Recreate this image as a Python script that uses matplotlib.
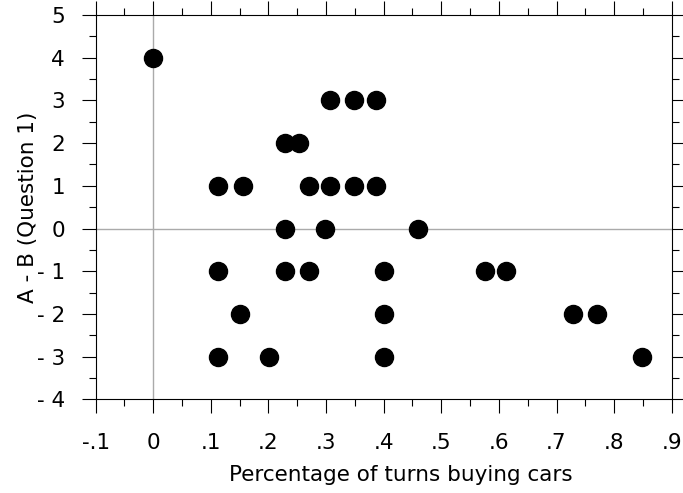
import matplotlib
matplotlib.use("Agg")
import matplotlib.pyplot as plt
from matplotlib.ticker import FixedLocator

# share of turns spent buying cars (x) against A - B answer (y)
pct_turns = [0.0,
             0.307, 0.349, 0.387,
             0.229, 0.253,
             0.113, 0.155, 0.271, 0.307, 0.349, 0.387,
             0.229, 0.298, 0.460,
             0.113, 0.229, 0.271, 0.400, 0.576, 0.612,
             0.150, 0.400, 0.729, 0.770,
             0.113, 0.201, 0.400, 0.849]
a_minus_b = [4,
             3, 3, 3,
             2, 2,
             1, 1, 1, 1, 1, 1,
             0, 0, 0,
             -1, -1, -1, -1, -1, -1,
             -2, -2, -2, -2,
             -3, -3, -3, -3]

x_ticks = [-0.1, 0, 0.1, 0.2, 0.3, 0.4, 0.5, 0.6, 0.7, 0.8, 0.9]
x_labels = ["-.1", "0", ".1", ".2", ".3", ".4", ".5", ".6", ".7", ".8", ".9"]
y_ticks = [-4, -3, -2, -1, 0, 1, 2, 3, 4, 5]
y_labels = ["- 4", "- 3", "- 2", "- 1", "0", "1", "2", "3", "4", "5"]

plt.rcParams['font.family'] = ['DejaVu Sans']
fs = 15.5

fig = plt.figure(figsize=(6.83, 4.93), dpi=100)
ax = fig.add_axes([0.140, 0.190, 0.8435, 0.7796])

ax.axhline(0, color='#aaaaaa', lw=1, zorder=1)
ax.axvline(0, color='#aaaaaa', lw=1, zorder=1)
ax.plot(pct_turns, a_minus_b, 'o', color='black', markersize=13, zorder=3)

ax.set_xlim(-0.1, 0.9)
ax.set_ylim(-4, 5)
ax.set_xticks(x_ticks)
ax.set_xticklabels(x_labels)
ax.set_yticks(y_ticks)
ax.set_yticklabels(y_labels)
ax.xaxis.set_minor_locator(FixedLocator([t + 0.05 for t in x_ticks[:-1]]))
ax.yaxis.set_minor_locator(FixedLocator([t + 0.5 for t in y_ticks[:-1]]))

ax.tick_params(which='both', direction='out', top=True, right=True,
               color='black', width=0.8)
ax.tick_params(which='major', length=10, labelsize=fs)
ax.tick_params(which='minor', length=5)
ax.tick_params(axis='x', which='major', pad=14)
ax.tick_params(axis='y', which='major', pad=12)
for s in ax.spines.values():
    s.set_linewidth(0.8)

ax.set_xlabel("Percentage of turns buying cars", fontsize=fs)
ax.xaxis.set_label_coords(0.53, -0.17)
ax.set_ylabel("A - B (Question 1)", fontsize=fs)
ax.yaxis.set_label_coords(-0.1, 0.5)

fig.savefig("out.png", dpi=100)
